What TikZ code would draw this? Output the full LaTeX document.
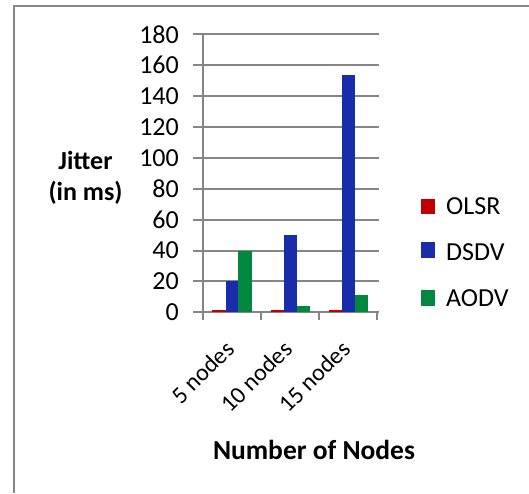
\documentclass[tikz,border=0pt]{standalone}
\usepackage{fontspec}
\setmainfont{Carlito}
\definecolor{olsrred}{RGB}{192,0,0}
\definecolor{dsdvblue}{RGB}{24,44,172}
\definecolor{aodvgreen}{RGB}{0,137,62}
\definecolor{gridgray}{RGB}{134,134,134}
\tikzset{
  ticklabel/.style={anchor=east,inner sep=0pt,font=\fontsize{26}{26}\selectfont},
  catlabel/.style={anchor=east,rotate=45,inner sep=0pt,font=\fontsize{24}{24}\selectfont},
  axistitle/.style={inner sep=0pt,align=center,font=\fontsize{26}{31}\selectfont\bfseries},
  legendtext/.style={anchor=west,inner sep=0pt,font=\fontsize{26}{26}\selectfont},
}
\begin{document}
\begin{tikzpicture}[x=1pt,y=-1pt]
		\useasboundingbox (0,0) rectangle (529,493);
		\fill[white] (0,0) rectangle (529,493);
		% frame
		\draw[gridgray, line width=2pt] (14,493) -- (14,6) -- (529,6);
		% grid and value labels
		\foreach \v in {0,20,...,180}{
			\draw[gridgray, line width=2pt] (193,{312.3-1.5444*\v}) -- (379,{312.3-1.5444*\v});
			\node[ticklabel] (tick\v) at (179,{312.3-1.5444*\v}) {\v};
		}
		\draw[gridgray, line width=2pt] (202.7,312.3) -- (202.7,33);
		\foreach \i in {0,1,2,3}
			\draw[gridgray, line width=2pt] ({202.7+58.2*\i},312.3) -- ({202.7+58.2*\i},320);
		% bars
		\foreach \i/\r/\b/\g in {0/1.5/20.5/40, 1/1.5/50/4, 2/1.5/153.5/11.5}{
			\fill[olsrred] ({212.3+58.2*\i},312.3) rectangle ++(13.3,{-1.5444*\r});
			\fill[dsdvblue] ({225.6+58.2*\i},312.3) rectangle ++(12.8,{-1.5444*\b});
			\fill[aodvgreen] ({238.4+58.2*\i},312.3) rectangle ++(13.3,{-1.5444*\g});
		}
		% category labels
		\node[catlabel] (cat5) at (230,345) {5 nodes};
		\node[catlabel] (cat10) at (288,345) {10 nodes};
		\node[catlabel] (cat15) at (346,345) {15 nodes};
		% titles
		\node[axistitle] (ytitle) at (85.5,178) {Jitter\\(in ms)};
		\node[axistitle, font=\fontsize{27.5}{31}\selectfont\bfseries] (xtitle) at (314,450) {Number of Nodes};
		% legend
		\fill[olsrred] (421,199) rectangle (435,214);
		\node[legendtext] (legolsr) at (446,206.6) {OLSR};
		\fill[dsdvblue] (421,242.3) rectangle (435,257.7);
		\node[legendtext] (legdsdv) at (446,252) {DSDV};
		\fill[aodvgreen] (421,290) rectangle (435,306);
		\node[legendtext] (legaodv) at (446,298) {AODV};
	\end{tikzpicture}
\end{document}
